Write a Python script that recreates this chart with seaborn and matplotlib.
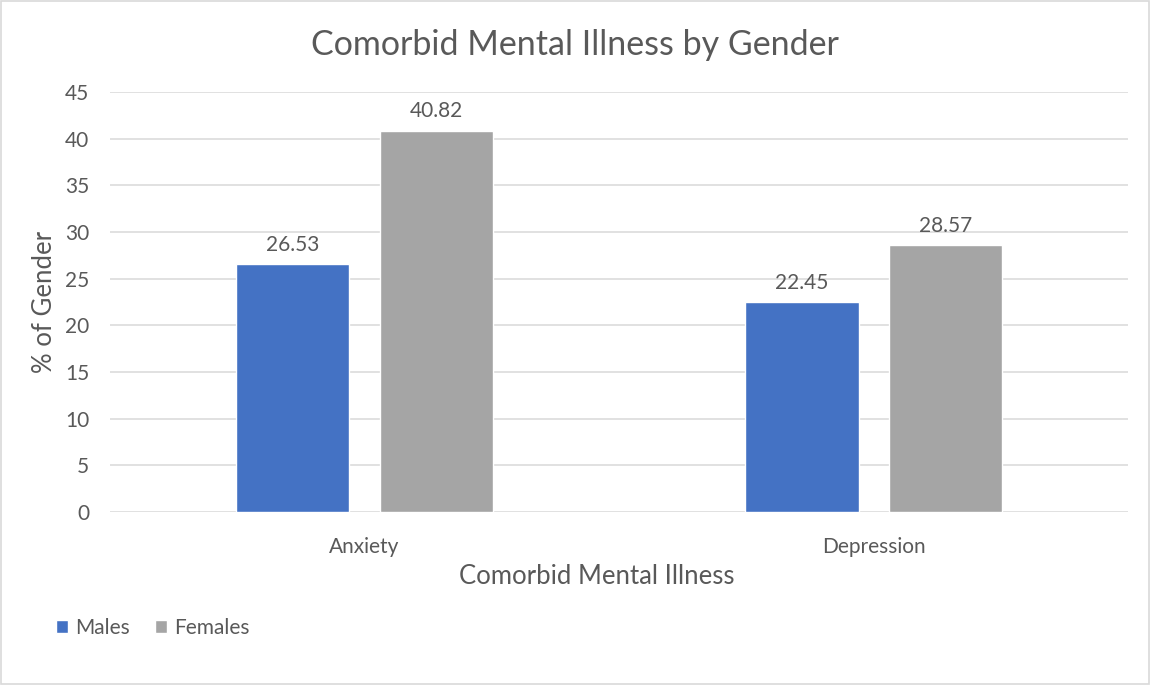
import pandas as pd
import seaborn as sns
import matplotlib.pyplot as plt
from matplotlib.patches import Rectangle

# Chart data
illnesses = ['Anxiety', 'Depression']
genders = ['Males', 'Females']
males = [26.53, 22.45]
females = [40.82, 28.57]
y_ticks = [0, 5, 10, 15, 20, 25, 30, 35, 40, 45]

df = pd.DataFrame({
    'Illness': illnesses * 2,
    'Gender': ['Males'] * len(illnesses) + ['Females'] * len(illnesses),
    'Percent': males + females,
})

sns.set_style('white')
plt.rcParams['font.family'] = ['Lato', 'DejaVu Sans']
text_col = '#595959'

fig = plt.figure(figsize=(11.5, 6.85), dpi=100)
ax = fig.add_axes([0.0957, 0.2526, 0.8853, 0.6131])

palette = {'Males': '#4472C4', 'Females': '#A5A5A5'}
sns.barplot(data=df, x='Illness', y='Percent', hue='Gender', order=illnesses,
            hue_order=genders, palette=palette, width=0.565, gap=0.21,
            saturation=1, ax=ax, legend=True)

for c in ax.containers:
    ax.bar_label(c, fmt='%.2f', padding=7, fontsize=15, color=text_col)

ax.set_ylim(0, 45)
ax.set_xlim(-0.5, 1.5)
ax.set_yticks(y_ticks)
ax.yaxis.grid(True, color='#D9D9D9', linewidth=1.1)
ax.set_axisbelow(True)
for s in ax.spines.values():
    s.set_visible(False)
ax.tick_params(axis='both', length=0, labelsize=15, colors=text_col)
ax.tick_params(axis='y', pad=15)
ax.tick_params(axis='x', pad=18)
ax.set_xlabel('')
ax.set_ylabel('')

fig.text(0.5, 0.934, 'Comorbid Mental Illness by Gender', fontsize=24.5,
         color=text_col, ha='center', va='center')
fig.text(0.519, 0.158, 'Comorbid Mental Illness', fontsize=18.5,
         color=text_col, ha='center', va='center')
fig.text(0.039, 0.559, '% of Gender', fontsize=18.5, color=text_col,
         ha='center', va='center', rotation=90)

ax.legend(loc='center left', bbox_to_anchor=(0.032, 0.083), bbox_transform=fig.transFigure,
          ncol=2, frameon=False, fontsize=15, handlelength=0.58, handleheight=0.58,
          handletextpad=0.35, columnspacing=1.2, labelcolor=text_col)

fig.patches.append(Rectangle((0.001, 0.002), 0.998, 0.996, transform=fig.transFigure,
                             fill=False, edgecolor='#D9D9D9', linewidth=1.2))

fig.savefig('out.png', dpi=100, facecolor='white')
